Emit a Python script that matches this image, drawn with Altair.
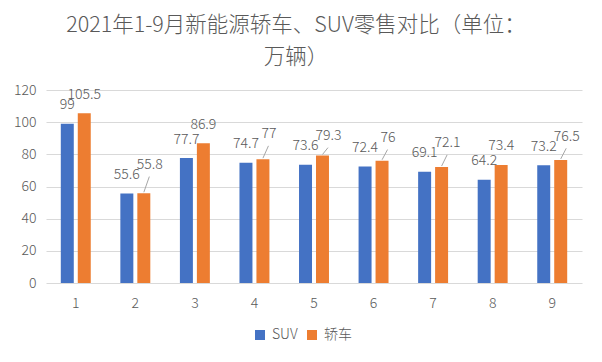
import altair as alt
import pandas as pd

# ---- data ----
months = ["1", "2", "3", "4", "5", "6", "7", "8", "9"]
suv = [99, 55.6, 77.7, 74.7, 73.6, 72.4, 69.1, 64.2, 73.2]
sedan = [105.5, 55.8, 86.9, 77, 79.3, 76, 72.1, 73.4, 76.5]
series_names = ["SUV", "轿车"]
series_colors = ["#4472C4", "#ED7D31"]
y_ticks = [0, 20, 40, 60, 80, 100, 120]
title_lines = ["2021年1-9月新能源轿车、SUV零售对比（单位：", "万辆）"]

FONT = "Noto Sans CJK SC"
TXT = "#595959"
W_LIGHT = 300
PLOT_W, PLOT_H = 536, 193
Y_MAX = 120
# minimum vertical gap (in data units) between the two labels of a group
gap_units = 10 * Y_MAX / PLOT_H

rows = []
for m, s, c in zip(months, suv, sedan):
    rows.append({"month": m, "series": series_names[0], "value": s,
                 "txt": f"{s:g}", "label_val": s, "shifted": False})
    lv = max(c, s + gap_units)
    rows.append({"month": m, "series": series_names[1], "value": c,
                 "txt": f"{c:g}", "label_val": lv, "shifted": bool(c - s < gap_units)})
df = pd.DataFrame(rows)

x_axis = alt.Axis(title=None, labelAngle=0, domain=False, ticks=False,
                  labelPadding=13, labelColor=TXT, labelFontSize=14,
                  labelFont=FONT, labelFontWeight=W_LIGHT, grid=False)
y_axis = alt.Axis(values=y_ticks, title=None, domain=False, ticks=False,
                  labelPadding=10, labelColor=TXT, labelFontSize=14,
                  labelFont=FONT, labelFontWeight=W_LIGHT, labelOverlap=False,
                  gridColor="#D9D9D9", gridWidth=1)
x_scale = alt.Scale(paddingInner=0.497, paddingOuter=0.2485)
y_scale = alt.Scale(domain=[0, Y_MAX], nice=False)


def xe():
    return alt.X("month:O", sort=months, scale=x_scale, axis=x_axis)


def xo():
    return alt.XOffset("series:N", sort=series_names,
                       scale=alt.Scale(domain=series_names, paddingInner=0.235, paddingOuter=0))


def ye(field):
    return alt.Y(field, scale=y_scale, axis=y_axis)


base = alt.Chart(df)

bars = base.mark_bar().encode(
    x=xe(),
    xOffset=xo(),
    y=ye("value:Q"),
    color=alt.Color("series:N", sort=series_names,
                    scale=alt.Scale(domain=series_names, range=series_colors),
                    legend=alt.Legend(title=None, orient="none", direction="horizontal",
                                      legendX=207, legendY=238, symbolType="square",
                                      symbolSize=100, symbolStrokeWidth=0,
                                      labelFontSize=14, labelColor=TXT, labelFont=FONT,
                                      labelFontWeight=W_LIGHT,
                                      labelOffset=5, columnPadding=7, padding=0)),
)

text_style = dict(baseline="middle", align="center", dy=-18.5, fontSize=14,
                  font=FONT, fontWeight=W_LIGHT, color=TXT)

labels_plain = base.transform_filter("!datum.shifted").mark_text(**text_style).encode(
    x=xe(), xOffset=xo(), y=ye("label_val:Q"), text="txt:N",
)

labels_shift = base.transform_filter("datum.shifted").mark_text(dx=6, **text_style).encode(
    x=xe(), xOffset=xo(), y=ye("label_val:Q"), text="txt:N",
)

leaders = base.transform_filter("datum.shifted").mark_rule(
    color="#A6A6A6", strokeWidth=1, xOffset=8.5, x2Offset=14, yOffset=-1, y2Offset=-7
).encode(
    x=xe(),
    x2=alt.X2("month"),
    y=ye("value:Q"),
    y2=alt.Y2("label_val"),
)

chart = alt.layer(bars, leaders, labels_plain, labels_shift).properties(
    width=PLOT_W,
    height=PLOT_H,
    autosize="none",
    padding={"left": 38, "top": 82, "right": 8, "bottom": 70},
    background="white",
    title=alt.TitleParams(text=title_lines, fontSize=21.5, font=FONT, color=TXT,
                          fontWeight=W_LIGHT, anchor="middle", dx=-18,
                          offset=15, lineHeight=32),
).configure_view(stroke=None)

chart.save("out.html", embed_options={"renderer": "svg", "actions": False})
